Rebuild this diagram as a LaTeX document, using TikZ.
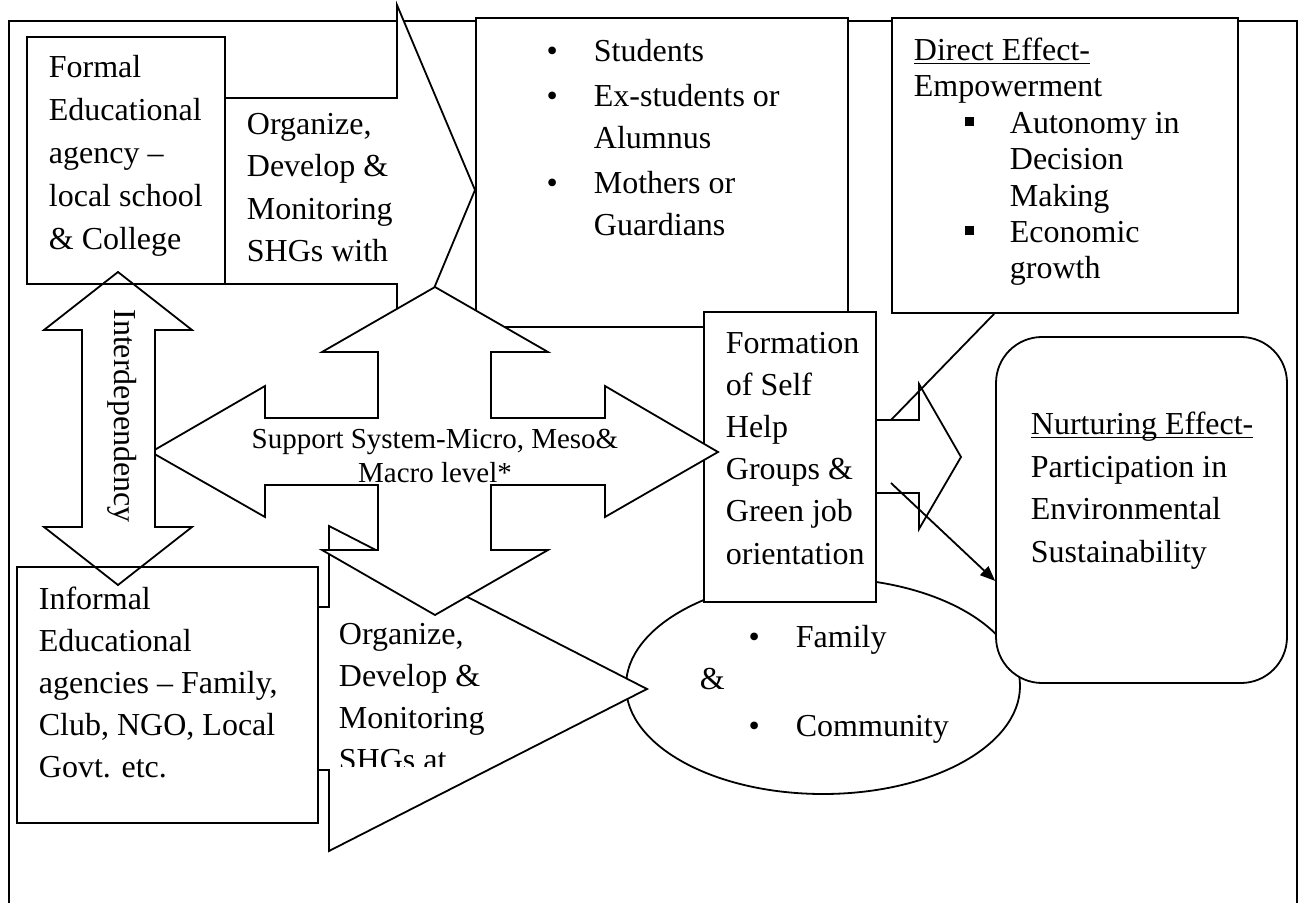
\documentclass[tikz,border=0pt]{standalone}
\usepackage{fontspec}
\setmainfont{Liberation Serif}
\usetikzlibrary{arrows.meta, positioning, calc, fit, shapes.geometric}

\newcommand{\rbul}{\leavevmode\llap{\textbullet\hspace*{18pt}}}
\newcommand{\sbul}{\leavevmode\llap{\raisebox{3.5pt}{\rule{4.5pt}{4.5pt}}\hspace*{18pt}}}
\newcommand{\ulword}[1]{\setbox0\hbox{#1}\rlap{\rule[-2pt]{\wd0}{0.8pt}}\box0}

\begin{document}
\begin{tikzpicture}[
    x=0.5pt, y=-0.5pt,
    line width=0.9pt,
    >={Triangle[length=7.5pt, width=6pt]},
    box/.style={rectangle, draw, fill=white, inner sep=0pt},
    openbox/.style={rectangle, draw, inner sep=0pt},
    blockarrow/.style={draw, fill=white, line join=miter},
    txt/.style={font=\fontsize{16pt}{21.5pt}\selectfont, align=left,
                inner sep=0pt, anchor=north west},
    supporttxt/.style={font=\fontsize{14.5pt}{17pt}\selectfont, align=center,
                inner sep=0pt},
]

\useasboundingbox (0,0) rectangle (1301,903);
\clip (0,0) rectangle (1301,903);

% === Outer frame ===
\draw (9,21) rectangle (1297,940);

% === Upper arrow and member box ===
\filldraw[blockarrow] (225,98) -- (397,98) -- (397,5) -- (475,190)
    -- (397,377) -- (397,284) -- (225,284) -- cycle;

\node[box, fit={(476,18) (848,327)}] (members) {};
\node[box, fit={(892,18) (1238,313)}] (direct) {};

% family & community
\node[ellipse, draw, fill=white, inner sep=0pt,
      minimum width=197pt, minimum height=108pt] (circle) at (823,686) {};

% === SHG formation and its outcome ===
\filldraw[blockarrow] (876,420) -- (919,420) -- (919,384) -- (961,457)
    -- (919,529) -- (919,493) -- (876,493) -- cycle;

\node[box, fit={(704,312) (876,602)}] (shg) {};
\node[box, rounded corners=23pt, fit={(996,337) (1287,683)}] (nurture) {};

% === Lower arrow ===
\filldraw[blockarrow] (318,607) -- (329,607) -- (329,526) -- (647,689)
    -- (329,851) -- (329,770) -- (318,770) -- cycle;

% === Support system cross ===
\filldraw[blockarrow] (435,287) -- (548,352) -- (491,352) -- (491,418)
    -- (605,418) -- (605,386) -- (718,452) -- (605,517) -- (605,485)
    -- (491,485) -- (491,550) -- (548,550) -- (435,615) -- (322,550)
    -- (378,550) -- (378,485) -- (265,485) -- (265,517) -- (151,452)
    -- (265,386) -- (265,418) -- (378,418) -- (378,352) -- (322,352) -- cycle;

% === Interdependency arrow ===
\filldraw[blockarrow] (118,272) -- (192,330) -- (155,330) -- (155,527)
    -- (192,527) -- (118,585) -- (44,527) -- (82,527) -- (82,330)
    -- (44,330) -- cycle;

\node[openbox, fit={(27,37) (225,284)}] (formal) {};
\node[openbox, fit={(17,567) (318,823)}] (informal) {};

% === Texts ===
\node[txt] (formal-txt) at (48,54)
    {Formal\\Educational\\agency --\\local school\\\& College};
\node[txt, font=\fontsize{16pt}{21.25pt}\selectfont] (up-txt) at (246,112)
    {Organize,\\Develop \&\\Monitoring\\SHGs with};
\node[txt, font=\fontsize{16pt}{21pt}\selectfont] (members-txt) at (593,38)
    {\rbul Students\\[1.5pt]\rbul Ex-students or\\Alumnus\\[1.5pt]\rbul Mothers or\\Guardians};
\node[txt, font=\fontsize{16pt}{18.2pt}\selectfont] (direct-txt) at (913,37)
    {\ulword{Direct Effect-}\\Empowerment\\\hspace*{48pt}\sbul Autonomy in\\\hspace*{48pt}Decision\\
     \hspace*{48pt}Making\\\hspace*{48pt}\sbul Economic\\\hspace*{48pt}growth};
\node[txt, font=\fontsize{16pt}{21.1pt}\selectfont] (shg-txt) at (725,331)
    {Formation\\of Self\\Help\\Groups \&\\Green job\\orientation};
\node[txt, font=\fontsize{16pt}{21.35pt}\selectfont] (nurture-txt) at (1030,411)
    {\ulword{Nurturing Effect-}\\Participation in\\Environmental\\Sustainability};
\node[txt, font=\fontsize{16pt}{21pt}\selectfont] (informal-txt) at (38,586)
    {Informal\\Educational\\agencies -- Family,\\Club, NGO, Local\\Govt. etc.};

\begin{scope}
  \clip (330,600) rectangle (640,766);
  \node[txt, font=\fontsize{16pt}{21pt}\selectfont] (low-txt) at (338,622)
      {Organize,\\Develop \&\\Monitoring\\SHGs at};
\end{scope}

\node[txt, font=\fontsize{16pt}{22.25pt}\selectfont] (circle-txt) at (795,624)
    {\rbul Family\\[22.25pt]\rbul Community};
\node[txt, anchor=base west] (amp) at (699,689) {\&};

\node[supporttxt, anchor=north] (hub-txt) at (435,428)
    {Support System-Micro, Meso\&\\Macro level*};
\node[font=\fontsize{16pt}{19pt}\selectfont, rotate=-90, inner sep=0pt] (inter)
    at (122,416) {Interdependency};

% === Connectors ===
\coordinate (chev-top) at (891,420);
\coordinate (chev-low) at (891,483);
\draw ($(direct.south west)+(103,0)$) -- (chev-top);
\draw[->] (chev-low) -- ($(nurture.south west)+(0,-103)$);

\end{tikzpicture}
\end{document}
